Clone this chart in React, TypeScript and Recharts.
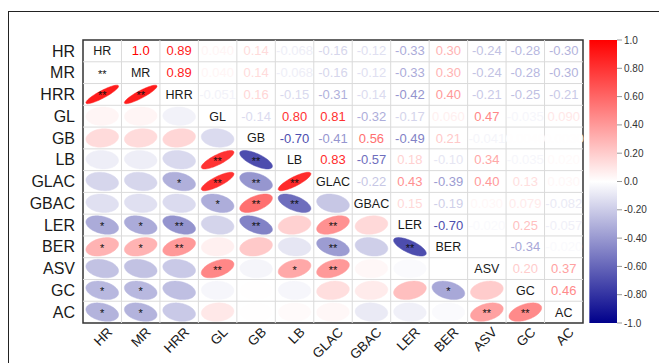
import React from 'react';
import { ScatterChart, Scatter, XAxis, YAxis, ReferenceLine, ReferenceArea } from 'recharts';

const VARS = ['HR', 'MR', 'HRR', 'GL', 'GB', 'LB', 'GLAC', 'GBAC', 'LER', 'BER', 'ASV', 'GC', 'AC'];

// Lower-triangle correlations: each row holds r with the preceding variables
const R_HR: number[] = [];
const R_MR = [1.0];
const R_HRR = [0.89, 0.89];
const R_GL = [0.04, 0.04, -0.051];
const R_GB = [0.14, 0.14, 0.16, -0.14];
const R_LB = [-0.068, -0.068, -0.15, 0.8, -0.7];
const R_GLAC = [-0.16, -0.16, -0.31, 0.81, -0.41, 0.83];
const R_GBAC = [-0.12, -0.12, -0.14, -0.32, 0.56, -0.57, -0.22];
const R_LER = [-0.33, -0.33, -0.42, -0.17, -0.49, 0.18, 0.43, 0.15];
const R_BER = [0.3, 0.3, 0.4, 0.06, 0.21, -0.1, -0.39, -0.19, -0.7];
const R_ASV = [-0.24, -0.24, -0.21, 0.47, -0.041, 0.34, 0.4, 0.03, -0.02, 0.0];
const R_GC = [-0.28, -0.28, -0.25, -0.035, 0.004, -0.035, 0.13, 0.079, 0.25, -0.34, 0.2];
const R_AC = [-0.3, -0.3, -0.21, 0.09, 0.003, 0.02, 0.03, -0.082, -0.057, -0.02, 0.37, 0.46];
const LOWER = [R_HR, R_MR, R_HRR, R_GL, R_GB, R_LB, R_GLAC, R_GBAC, R_LER, R_BER, R_ASV, R_GC, R_AC];

// Significance marks for the lower triangle
const S_HR: string[] = [];
const S_MR = ['**'];
const S_HRR = ['**', '**'];
const S_GL = ['', '', ''];
const S_GB = ['', '', '', ''];
const S_LB = ['', '', '', '**', '**'];
const S_GLAC = ['', '', '*', '**', '**', '**'];
const S_GBAC = ['', '', '', '*', '**', '**', ''];
const S_LER = ['*', '*', '**', '', '**', '', '**', ''];
const S_BER = ['*', '*', '**', '', '', '', '**', '', '**'];
const S_ASV = ['', '', '', '**', '', '*', '**', '', '', ''];
const S_GC = ['*', '*', '', '', '', '', '', '', '', '*', ''];
const S_AC = ['*', '*', '', '', '', '', '', '', '', '', '**', '**'];
const STARS = [S_HR, S_MR, S_HRR, S_GL, S_GB, S_LB, S_GLAC, S_GBAC, S_LER, S_BER, S_ASV, S_GC, S_AC];

const CB_TICKS = [1.0, 0.8, 0.6, 0.4, 0.2, 0.0, -0.2, -0.4, -0.6, -0.8, -1.0];

const N = VARS.length;
const W = 659;
const H = 363;
const M_TOP = 40;
const X_AXIS_H = 40;
const Y_AXIS_W = 83;
const CB_AXIS_W = 42;
const PLOT_W = W - Y_AXIS_W - CB_AXIS_W;
const PLOT_H = H - M_TOP - X_AXIS_H;
const CELL_W = 500 / N;
const CELL_H = PLOT_H / N;
const XMAX = PLOT_W / CELL_W;
const CB_X1 = 13.165;

const ROW_TICKS = VARS.map((_, i) => i + 0.5);

function corr(i: number, j: number) {
  if (i === j) return 1;
  return i > j ? LOWER[i][j] : LOWER[j][i];
}

function colorOf(r: number) {
  const t = Math.max(-1, Math.min(1, r));
  if (t >= 0) {
    const g = Math.round(255 * (1 - t));
    return `rgb(255,${g},${g})`;
  }
  const a = -t;
  const c = Math.round(255 * (1 - a));
  const b = Math.round(255 - (255 - 139) * a);
  return `rgb(${c},${c},${b})`;
}

function fmt(r: number) {
  return r.toPrecision(2);
}

const cells: { x: number; y: number; i: number; j: number; r: number }[] = [];
for (let i = 0; i < N; i++) {
  for (let j = 0; j < N; j++) {
    cells.push({ x: j + 0.5, y: i + 0.5, i, j, r: corr(i, j) });
  }
}

function CellShape(props: any) {
  const { cx, cy, payload } = props;
  const { i, j, r } = payload;
  if (i === j) {
    return (
      <text x={cx} y={cy + 4.4} textAnchor="middle" fontSize={12.5} fill="#1a1a1a">
        {VARS[i]}
      </text>
    );
  }
  if (i < j) {
    return (
      <text x={cx} y={cy + 4.6} textAnchor="middle" fontSize={13} fill={colorOf(r)}>
        {fmt(r)}
      </text>
    );
  }
  const st = STARS[i][j];
  let shape: React.ReactNode = null;
  if (Math.abs(r) < 0.999) {
    const a = Math.acos(Math.max(-1, Math.min(1, r)));
    const pts: string[] = [];
    const n = 72;
    for (let k = 0; k < n; k++) {
      const t = (k / n) * Math.PI * 2;
      const ux = (0.85 * Math.cos(t + a / 2)) / 2;
      const uy = (0.85 * Math.cos(t - a / 2)) / 2;
      pts.push(`${(cx + ux * CELL_W).toFixed(2)},${(cy - uy * CELL_H).toFixed(2)}`);
    }
    const col = colorOf(r);
    shape = <path d={`M${pts.join('L')}Z`} fill={col} stroke={col} strokeWidth={0.5} />;
  }
  return (
    <g>
      {shape}
      {st ? (
        <text x={cx} y={cy + 5} textAnchor="middle" fontSize={11} fill="#111">
          {st}
        </text>
      ) : null}
    </g>
  );
}

function XTick(props: any) {
  const { x, y, payload } = props;
  const name = VARS[Math.floor(payload.value)];
  const px = x + 11;
  const py = y + 2;
  return (
    <text
      x={0}
      y={0}
      textAnchor="end"
      fontSize={13.5}
      fill="#1a1a1a"
      transform={`translate(${px} ${py}) rotate(-45)`}
    >
      {name}
    </text>
  );
}

export default function App() {
  const hLines = [];
  for (let k = 1; k < N; k++) hLines.push(k);
  return (
    <div
      style={{
        position: 'fixed',
        left: 0,
        top: 0,
        width: W,
        height: H,
        overflow: 'hidden',
        background: '#fff',
        fontFamily: '"Liberation Sans", Arial, sans-serif',
      }}
    >
      <svg width={0} height={0} style={{ position: 'absolute' }}>
        <defs>
          <linearGradient id="cbgrad" x1="0" y1="0" x2="0" y2="1">
            <stop offset="0%" stopColor="#ff0000" />
            <stop offset="50%" stopColor="#ffffff" />
            <stop offset="100%" stopColor="#00008b" />
          </linearGradient>
        </defs>
      </svg>
      <div
        style={{
          position: 'absolute',
          left: 8,
          top: 11,
          width: 720,
          height: 420,
          border: '1.6px solid #222',
        }}
      />
      <div style={{ position: 'absolute', left: 0, top: 0 }}>
        <ScatterChart width={W} height={H} margin={{ top: M_TOP, right: 0, bottom: 0, left: 0 }}>
          <XAxis
            type="number"
            dataKey="x"
            domain={[0, XMAX]}
            ticks={ROW_TICKS}
            interval={0}
            axisLine={false}
            tickLine={false}
            height={X_AXIS_H}
            tick={<XTick />}
            allowDataOverflow
          />
          <YAxis
            yAxisId="rows"
            type="number"
            dataKey="y"
            domain={[0, N]}
            reversed
            ticks={ROW_TICKS}
            interval={0}
            axisLine={false}
            tickLine={false}
            width={Y_AXIS_W}
            tickFormatter={(v: number) => VARS[Math.floor(v)]}
            tick={{ fontSize: 16, fill: '#1a1a1a' }}
            allowDataOverflow
          />
          <YAxis
            yAxisId="cb"
            orientation="right"
            type="number"
            domain={[-1, 1]}
            ticks={CB_TICKS}
            interval={0}
            axisLine={false}
            tickLine={{ stroke: '#999', strokeWidth: 1 }}
            tickSize={5}
            tickMargin={2}
            width={CB_AXIS_W}
            tickFormatter={(v: number) => fmt(v)}
            tick={{ fontSize: 10, fill: '#333' }}
            allowDataOverflow
          />
          <ReferenceArea
            yAxisId="cb"
            x1={CB_X1}
            x2={XMAX}
            y1={-1}
            y2={1}
            fill="url(#cbgrad)"
            fillOpacity={1}
            stroke="none"
            ifOverflow="visible"
          />
          {hLines.map((k) => (
            <ReferenceLine key={'v' + k} yAxisId="rows" x={k} stroke="#dadada" strokeWidth={1} />
          ))}
          {hLines.map((k) => (
            <ReferenceLine
              key={'h' + k}
              yAxisId="rows"
              segment={[
                { x: 0, y: k },
                { x: N, y: k },
              ]}
              stroke="#dadada"
              strokeWidth={1}
            />
          ))}
          <Scatter data={cells} yAxisId="rows" shape={(p: any) => <CellShape {...p} />} isAnimationActive={false} />
          <ReferenceArea
            yAxisId="rows"
            x1={0}
            x2={N}
            y1={0}
            y2={N}
            fill="none"
            fillOpacity={0}
            stroke="#333"
            strokeWidth={1.5}
            ifOverflow="visible"
          />
        </ScatterChart>
      </div>
    </div>
  );
}
